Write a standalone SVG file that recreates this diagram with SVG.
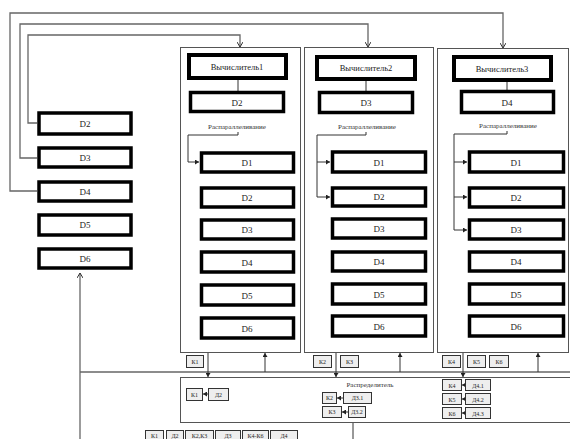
<svg xmlns="http://www.w3.org/2000/svg" width="570" height="439" viewBox="0 0 570 439">
<defs>
<marker id="ar" markerWidth="6" markerHeight="6" refX="5" refY="3" orient="auto" markerUnits="userSpaceOnUse">
<path d="M0,0 L5,3 L0,6" fill="none" stroke="#333" stroke-width="1"/>
</marker>
<marker id="af" markerWidth="5" markerHeight="5" refX="4" refY="2.5" orient="auto" markerUnits="userSpaceOnUse">
<path d="M0,0 L4,2.5 L0,5 Z" fill="#222"/>
</marker>
<style>
.bx{fill:#fff;stroke:#000;stroke-width:3.5}
.cb{fill:#fff;stroke:#000;stroke-width:4}
.grp{fill:none;stroke:#555;stroke-width:1}
.t{font-family:"Liberation Serif",serif;font-size:9px;text-anchor:middle;fill:#222}
.tc{font-family:"Liberation Serif",serif;font-size:8.5px;text-anchor:middle;fill:#222}
.ts{font-family:"Liberation Serif",serif;font-size:7px;text-anchor:middle;fill:#333}
.tl{font-family:"Liberation Serif",serif;font-size:6px;text-anchor:middle;fill:#222}
.lb{fill:#eee;stroke:#333;stroke-width:1}
.ln{fill:none;stroke:#666;stroke-width:1.3}
.lk{fill:none;stroke:#333;stroke-width:1}
</style>
</defs>
<rect width="570" height="439" fill="#fff"/>

<g id="connectors">
<path class="ln" d="M37,123 H28 V35 H240 V47" marker-end="url(#ar)"/>
<path class="ln" d="M37,158 H20 V24 H368 V47" marker-end="url(#ar)"/>
<path class="ln" d="M37,191 H10 V13 H503 V48" marker-end="url(#ar)"/>
<path class="lk" d="M238,80 V91"/>
<path class="lk" d="M366,81 V91"/>
<path class="lk" d="M507,82 V90"/>
<path class="lk" d="M238,132 V135 H188 V162 H199" marker-end="url(#af)"/>
<path class="lk" d="M366,132 V135 H317 V162 H330" marker-end="url(#af)"/>
<path class="lk" d="M317,162 V197 H330" marker-end="url(#af)"/>
<path class="lk" d="M507,131 V134 H454 V162 H467" marker-end="url(#af)"/>
<path class="lk" d="M454,162 V197 H467" marker-end="url(#af)"/>
<path class="lk" d="M454,197 V230 H467" marker-end="url(#af)"/>
<path class="ln" d="M80,372 H570"/>
<path class="ln" d="M80,439 V273" marker-end="url(#ar)"/>
<path class="lk" d="M208,352 V377" marker-end="url(#af)"/>
<path class="lk" d="M265,372 V353" marker-end="url(#af)"/>
<path class="lk" d="M336,352 V377" marker-end="url(#af)"/>
<path class="lk" d="M400,372 V353" marker-end="url(#af)"/>
<path class="lk" d="M463,352 V377" marker-end="url(#af)"/>
<path class="lk" d="M538,372 V353" marker-end="url(#af)"/>
<path class="lk" d="M353,423 V439"/>
<path class="lk" d="M208,394 H203" marker-end="url(#af)"/>
<path class="lk" d="M343,398 H337" marker-end="url(#af)"/>
<path class="lk" d="M348,412 H342" marker-end="url(#af)"/>
<path class="lk" d="M465,385 H462" marker-end="url(#af)"/>
<path class="lk" d="M465,399 H462" marker-end="url(#af)"/>
<path class="lk" d="M465,413 H462" marker-end="url(#af)"/>
</g>

<g id="left-column">
<g id="L-D2"><rect class="bx" x="39" y="113" width="92" height="21"/><text class="t" x="85" y="127">D2</text></g>
<g id="L-D3"><rect class="bx" x="39" y="148" width="92" height="19"/><text class="t" x="85" y="161">D3</text></g>
<g id="L-D4"><rect class="bx" x="39" y="182" width="92" height="19"/><text class="t" x="85" y="195">D4</text></g>
<g id="L-D5"><rect class="bx" x="39" y="215" width="92" height="20"/><text class="t" x="85" y="228">D5</text></g>
<g id="L-D6"><rect class="bx" x="39" y="249" width="92" height="19"/><text class="t" x="85" y="262">D6</text></g>
</g>

<g id="group1">
<rect class="grp" x="180.5" y="47.5" width="120" height="305"/>
<g id="calc1"><rect class="cb" x="189" y="55" width="97" height="23"/><text class="tc" x="237" y="70">Вычислитель1</text></g>
<g id="g1-top"><rect class="bx" x="190.5" y="92.5" width="93" height="19"/><text class="t" x="237" y="106">D2</text></g>
<text class="ts" x="237" y="129">Распараллеливание</text>
<g id="g1-D1"><rect class="bx" x="201.5" y="153" width="92" height="19"/><text class="t" x="247" y="166">D1</text></g>
<g id="g1-D2"><rect class="bx" x="201.5" y="188" width="92" height="19"/><text class="t" x="247" y="201">D2</text></g>
<g id="g1-D3"><rect class="bx" x="201.5" y="220" width="92" height="19"/><text class="t" x="247" y="233">D3</text></g>
<g id="g1-D4"><rect class="bx" x="201.5" y="252" width="92" height="20"/><text class="t" x="247" y="266">D4</text></g>
<g id="g1-D5"><rect class="bx" x="201.5" y="285" width="92" height="20"/><text class="t" x="247" y="299">D5</text></g>
<g id="g1-D6"><rect class="bx" x="201.5" y="318" width="92" height="20"/><text class="t" x="247" y="332">D6</text></g>
</g>

<g id="group2">
<rect class="grp" x="304.5" y="47.5" width="129" height="305"/>
<g id="calc2"><rect class="cb" x="317" y="57" width="98" height="22"/><text class="tc" x="366" y="71">Вычислитель2</text></g>
<g id="g2-top"><rect class="bx" x="319.5" y="92.5" width="93" height="20"/><text class="t" x="366" y="106">D3</text></g>
<text class="ts" x="367" y="129">Распараллеливание</text>
<g id="g2-D1"><rect class="bx" x="332.5" y="152" width="93" height="20"/><text class="t" x="379" y="166">D1</text></g>
<g id="g2-D2"><rect class="bx" x="332.5" y="188" width="93" height="18"/><text class="t" x="379" y="200">D2</text></g>
<g id="g2-D3"><rect class="bx" x="332.5" y="219" width="93" height="19"/><text class="t" x="379" y="232">D3</text></g>
<g id="g2-D4"><rect class="bx" x="332.5" y="252" width="93" height="19"/><text class="t" x="379" y="265">D4</text></g>
<g id="g2-D5"><rect class="bx" x="332.5" y="284" width="93" height="20"/><text class="t" x="379" y="298">D5</text></g>
<g id="g2-D6"><rect class="bx" x="332.5" y="316" width="93" height="20"/><text class="t" x="379" y="330">D6</text></g>
</g>

<g id="group3">
<rect class="grp" x="437.5" y="48.5" width="131" height="304"/>
<g id="calc3"><rect class="cb" x="454" y="57" width="97" height="23"/><text class="tc" x="502" y="72">Вычислитель3</text></g>
<g id="g3-top"><rect class="bx" x="461.5" y="91.5" width="92" height="21"/><text class="t" x="507" y="106">D4</text></g>
<text class="ts" x="508" y="128">Распараллеливание</text>
<g id="g3-D1"><rect class="bx" x="469.5" y="152" width="94" height="20"/><text class="t" x="516" y="166">D1</text></g>
<g id="g3-D2"><rect class="bx" x="469.5" y="188" width="94" height="19"/><text class="t" x="516" y="201">D2</text></g>
<g id="g3-D3"><rect class="bx" x="469.5" y="220" width="94" height="19"/><text class="t" x="516" y="233">D3</text></g>
<g id="g3-D4"><rect class="bx" x="469.5" y="252" width="94" height="19"/><text class="t" x="516" y="265">D4</text></g>
<g id="g3-D5"><rect class="bx" x="469.5" y="284" width="94" height="20"/><text class="t" x="516" y="298">D5</text></g>
<g id="g3-D6"><rect class="bx" x="469.5" y="316" width="94" height="20"/><text class="t" x="516" y="330">D6</text></g>
</g>

<g id="channel-labels">
<rect class="lb" x="186.5" y="355.5" width="17" height="12"/><text class="tl" x="195" y="364">К1</text>
<rect class="lb" x="313.5" y="355.5" width="18" height="12"/><text class="tl" x="322.5" y="364">К2</text>
<rect class="lb" x="340.5" y="355.5" width="18" height="12"/><text class="tl" x="349.5" y="364">К3</text>
<rect class="lb" x="442.5" y="355.5" width="18" height="12"/><text class="tl" x="451.5" y="364">К4</text>
<rect class="lb" x="467.5" y="355.5" width="18" height="12"/><text class="tl" x="476.5" y="364">К5</text>
<rect class="lb" x="489.5" y="355.5" width="19" height="12"/><text class="tl" x="499" y="364">К6</text>
</g>

<g id="distributor">
<rect class="grp" x="180.5" y="377.5" width="395" height="45"/>
<text class="ts" x="370" y="387">Распределитель</text>
<rect class="lb" x="186.5" y="388.5" width="16" height="12"/><text class="tl" x="194.5" y="397">К1</text>
<rect class="lb" x="208.5" y="388.5" width="20" height="12"/><text class="tl" x="218.5" y="397">Д2</text>
<rect class="lb" x="322.5" y="392.5" width="14" height="11"/><text class="tl" x="329.5" y="400">К2</text>
<rect class="lb" x="343.5" y="392.5" width="28" height="11"/><text class="tl" x="357.5" y="400">Д3.1</text>
<rect class="lb" x="322.5" y="406.5" width="19" height="11"/><text class="tl" x="332" y="414">К3</text>
<rect class="lb" x="348.5" y="406.5" width="17" height="11"/><text class="tl" x="357" y="414">Д3.2</text>
<rect class="lb" x="442.5" y="379.5" width="19" height="11"/><text class="tl" x="452" y="387.5">К4</text>
<rect class="lb" x="465.5" y="379.5" width="25" height="11"/><text class="tl" x="478" y="387.5">Д4.1</text>
<rect class="lb" x="442.5" y="393.5" width="19" height="11"/><text class="tl" x="452" y="401.5">К5</text>
<rect class="lb" x="465.5" y="393.5" width="25" height="11"/><text class="tl" x="478" y="401.5">Д4.2</text>
<rect class="lb" x="442.5" y="407.5" width="19" height="11"/><text class="tl" x="452" y="415.5">К6</text>
<rect class="lb" x="465.5" y="407.5" width="25" height="11"/><text class="tl" x="478" y="415.5">Д4.3</text>
</g>

<g id="bottom-labels">
<rect class="lb" x="145.5" y="430.5" width="18" height="12"/><text class="tl" x="154.5" y="438">К1</text>
<rect class="lb" x="166.5" y="430.5" width="17" height="12"/><text class="tl" x="175" y="438">Д2</text>
<rect class="lb" x="185.5" y="430.5" width="28" height="12"/><text class="tl" x="199.5" y="438">К2,К3</text>
<rect class="lb" x="215.5" y="430.5" width="25" height="12"/><text class="tl" x="228" y="438">Д3</text>
<rect class="lb" x="242.5" y="430.5" width="26" height="12"/><text class="tl" x="255.5" y="438">К4-К6</text>
<rect class="lb" x="270.5" y="430.5" width="27" height="12"/><text class="tl" x="284" y="438">Д4</text>
</g>
</svg>
